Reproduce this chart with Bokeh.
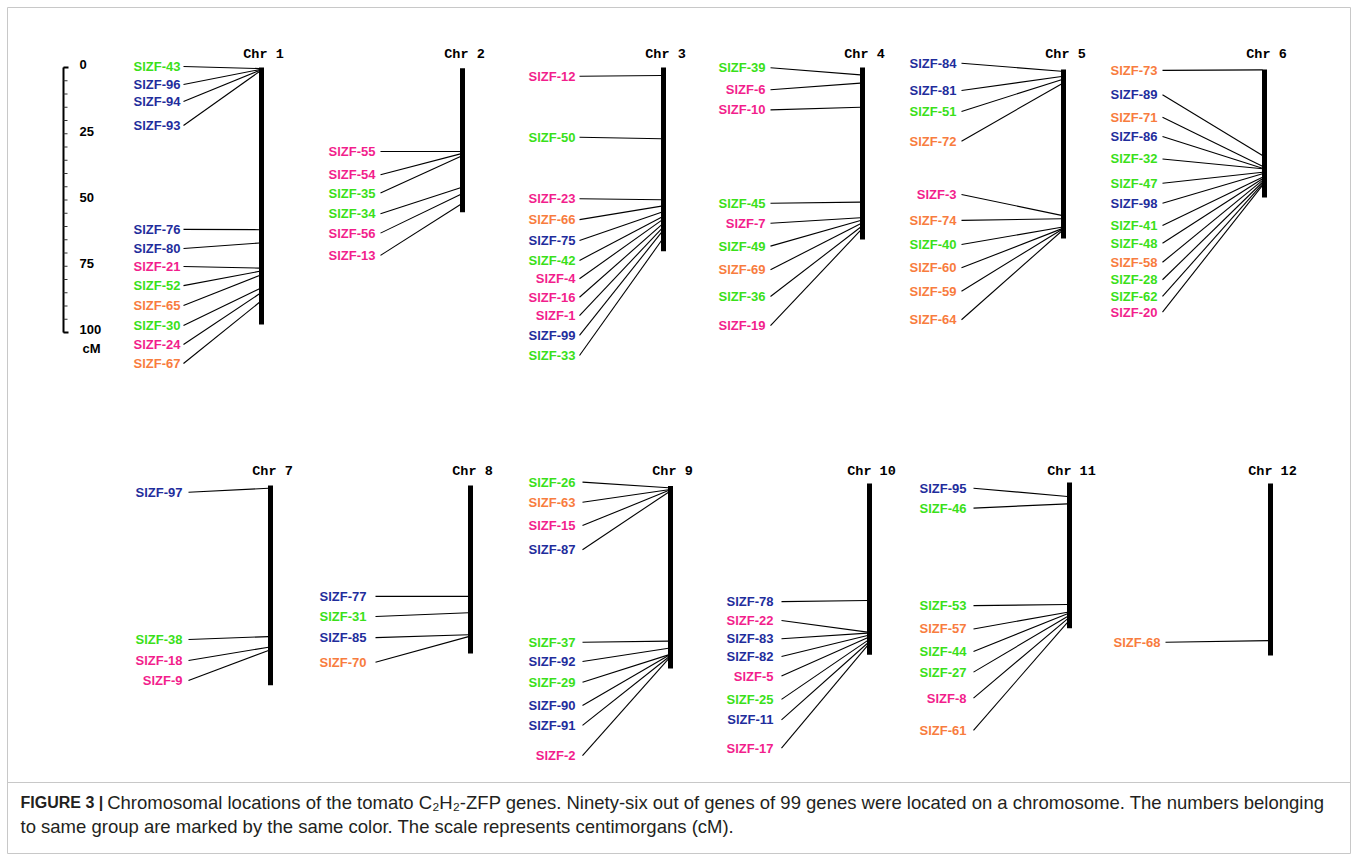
from bokeh.plotting import figure
from bokeh.models import ColumnDataSource, Range1d, Label
from bokeh.core.properties import value
from bokeh.embed import file_html
from bokeh.resources import INLINE

# ------------------------------------------------------------------ data
chromosomes = ["Chr 1", "Chr 2", "Chr 3", "Chr 4", "Chr 5", "Chr 6",
               "Chr 7", "Chr 8", "Chr 9", "Chr 10", "Chr 11", "Chr 12"]
chr_top_cM = [0, 0.3, 0, 0, 0.8, 0.8, 0.4, 0.4, 0.6, -0.4, -0.8, -0.4]
chr_end_cM = [97.0, 54.6, 69.3, 64.9, 64.5, 49.1, 75.8, 63.8, 69.4, 64.2, 54.2, 64.5]

chr1_genes = [43, 96, 94, 93, 76, 80, 21, 52, 65, 30, 24, 67]
chr1_groups = ["G", "B", "B", "B", "B", "B", "P", "G", "O", "G", "P", "O"]
chr1_cM = [0.4, 0.8, 1.1, 1.5, 61.2, 66.2, 75.7, 76.9, 78.5, 83.5, 85.4, 88.6]
chr1_label_cM = [-0.4, 6.4, 12.8, 21.9, 61.1, 68.3, 75.1, 82.3, 89.8, 97.4, 104.5, 111.7]

chr2_genes = [55, 54, 35, 34, 56, 13]
chr2_groups = ["P", "P", "G", "G", "P", "P"]
chr2_cM = [31.7, 32.6, 33.6, 45.4, 47.9, 51.7]
chr2_label_cM = [31.7, 40.5, 47.4, 55.2, 62.5, 70.9]

chr3_genes = [12, 50, 23, 66, 75, 42, 4, 16, 1, 99, 33]
chr3_groups = ["P", "G", "P", "O", "B", "G", "P", "P", "P", "B", "G"]
chr3_cM = [3.0, 26.9, 49.9, 52.3, 54.6, 56.5, 57.7, 59.4, 60.9, 62.2, 65.3]
chr3_label_cM = [3.3, 26.3, 49.5, 57.4, 65.3, 72.8, 79.7, 86.7, 93.6, 101.1, 108.7]

chr4_genes = [39, 6, 10, 45, 7, 49, 69, 36, 19]
chr4_groups = ["G", "P", "P", "G", "P", "G", "O", "G", "P"]
chr4_cM = [2.8, 5.9, 15.0, 50.8, 56.7, 57.7, 59.0, 60.3, 61.5]
chr4_label_cM = [0.1, 8.4, 16.0, 51.2, 58.8, 67.4, 76.3, 86.4, 97.4]

chr5_genes = [84, 81, 51, 72, 3, 74, 40, 60, 59, 64]
chr5_groups = ["B", "B", "G", "O", "P", "O", "G", "O", "O", "O"]
chr5_cM = [1.4, 3.4, 4.6, 6.2, 55.8, 57.1, 60.3, 60.9, 61.2, 61.8]
chr5_label_cM = [-1.6, 8.7, 16.6, 27.8, 47.9, 57.7, 66.8, 75.6, 84.4, 95.2]

chr6_genes = [73, 89, 71, 86, 32, 47, 98, 41, 48, 58, 28, 62, 20]
chr6_groups = ["O", "B", "O", "B", "G", "G", "B", "G", "G", "O", "G", "G", "P"]
chr6_cM = [0.9, 33.2, 37.3, 38.0, 38.2, 39.5, 40.1, 41.4, 42.0, 42.6, 43.3, 43.9, 44.5]
chr6_label_cM = [1.1, 10.3, 18.8, 26.0, 34.5, 43.7, 51.2, 59.6, 66.3, 73.5, 80.1, 86.4, 92.3]

chr7_genes = [97, 38, 18, 9]
chr7_groups = ["B", "G", "P", "P"]
chr7_cM = [1.4, 57.4, 61.4, 62.6]
chr7_label_cM = [2.9, 58.5, 66.4, 74.0]

chr8_genes = [77, 31, 85, 70]
chr8_groups = ["B", "G", "B", "O"]
chr8_cM = [42.2, 48.4, 56.7, 57.4]
chr8_label_cM = [42.2, 49.8, 57.8, 67.1]

chr9_genes = [26, 63, 15, 87, 37, 92, 29, 90, 91, 2]
chr9_groups = ["G", "O", "P", "B", "G", "B", "G", "B", "B", "P"]
chr9_cM = [1.2, 2.0, 2.3, 2.9, 59.1, 61.8, 64.3, 64.5, 65.2, 65.8]
chr9_label_cM = [-0.9, 6.7, 15.5, 24.6, 59.5, 66.8, 74.6, 83.4, 90.9, 102.3]

chr10_genes = [78, 22, 83, 82, 5, 25, 11, 17]
chr10_groups = ["B", "P", "B", "B", "P", "G", "B", "P"]
chr10_cM = [43.8, 55.7, 56.1, 57.0, 57.8, 58.9, 59.9, 60.8]
chr10_label_cM = [44.2, 51.3, 58.2, 64.9, 72.3, 81.1, 88.8, 99.5]

chr11_genes = [95, 46, 53, 57, 44, 27, 8, 61]
chr11_groups = ["B", "G", "G", "O", "G", "G", "P", "O"]
chr11_cM = [4.5, 7.3, 45.3, 48.2, 48.8, 49.8, 50.7, 52.0]
chr11_label_cM = [1.4, 8.9, 45.7, 54.5, 63.0, 70.8, 80.6, 92.8]

chr12_genes = [68]
chr12_groups = ["O"]
chr12_cM = [58.9]
chr12_label_cM = [59.5]

scale_major_cM = [0, 25, 50, 75, 100]
scale_major_labels = ["0", "25", "50", "75", "100"]
scale_minor_step = 5

caption_bold = "FIGURE 3 |"
caption_line1 = ("Chromosomal locations of the tomato C\u2082H\u2082-ZFP genes. Ninety-six out of "
                 "genes of 99 genes were located on a chromosome. The numbers belonging")
caption_line2 = "to same group are marked by the same color. The scale represents centimorgans (cM)."

# ------------------------------------------------------------------ layout / style
W, H = 1357, 860
PX_PER_CM = 2.65
ROW_TOP_PX = [67, 484]
chr_row = [0, 0, 0, 0, 0, 0, 1, 1, 1, 1, 1, 1]
chr_x = [261, 462, 663, 862, 1063, 1264, 270, 470, 670, 869, 1069, 1270]
line_start_x = [183, 380, 579, 770, 961, 1162, 188, 375, 582, 781, 973, 1165]
label_right_x = [180, 375, 575, 765, 956, 1157, 182, 366, 575, 773, 966, 1160]
group_colors = {"G": "#3ae01a", "B": "#1f2d9c", "P": "#f21e8c", "O": "#f87c3e"}

row_offset = [(t - ROW_TOP_PX[0]) / PX_PER_CM for t in ROW_TOP_PX]


def ypx(px):
    """screen pixel row -> data units (used for frame decorations only)"""
    return (px - ROW_TOP_PX[0]) / PX_PER_CM


chr_data = [
    (chr1_genes, chr1_groups, chr1_cM, chr1_label_cM),
    (chr2_genes, chr2_groups, chr2_cM, chr2_label_cM),
    (chr3_genes, chr3_groups, chr3_cM, chr3_label_cM),
    (chr4_genes, chr4_groups, chr4_cM, chr4_label_cM),
    (chr5_genes, chr5_groups, chr5_cM, chr5_label_cM),
    (chr6_genes, chr6_groups, chr6_cM, chr6_label_cM),
    (chr7_genes, chr7_groups, chr7_cM, chr7_label_cM),
    (chr8_genes, chr8_groups, chr8_cM, chr8_label_cM),
    (chr9_genes, chr9_groups, chr9_cM, chr9_label_cM),
    (chr10_genes, chr10_groups, chr10_cM, chr10_label_cM),
    (chr11_genes, chr11_groups, chr11_cM, chr11_label_cM),
    (chr12_genes, chr12_groups, chr12_cM, chr12_label_cM),
]

p = figure(width=W, height=H, x_range=Range1d(0, W), y_range=Range1d(ypx(H), ypx(0)),
           output_backend="svg", toolbar_location=None, x_axis_type=None, y_axis_type=None,
           min_border=0, min_border_left=0, min_border_right=0, min_border_top=0,
           min_border_bottom=0)
p.grid.visible = False
p.outline_line_color = None
p.background_fill_color = "white"
p.border_fill_color = "white"

# frame around figure and caption separator
p.segment(x0=[7, 7, 1350, 7, 7], y0=[ypx(7), ypx(7), ypx(7), ypx(853), ypx(782)],
          x1=[1350, 7, 1350, 1350, 1350], y1=[ypx(7), ypx(853), ypx(853), ypx(853), ypx(782)],
          line_color="#c8c8c8", line_width=1)

# chromosome bars
bar_src = ColumnDataSource(dict(
    x=chr_x,
    y0=[row_offset[r] + t for r, t in zip(chr_row, chr_top_cM)],
    y1=[row_offset[r] + e for r, e in zip(chr_row, chr_end_cM)],
))
p.segment(x0="x", y0="y0", x1="x", y1="y1", source=bar_src, line_color="black",
          line_width=5, line_cap="butt")

# titles
title_src = ColumnDataSource(dict(
    x=[x + 2 for x in chr_x],
    y=[row_offset[r] - 4.9 for r in chr_row],
    text=chromosomes,
))
p.text(x="x", y="y", text="text", source=title_src, text_font=value("Liberation Mono"),
       text_font_style="bold", text_font_size="13.5px", text_align="center",
       text_baseline="middle", text_color="black")

# genes
lx0, ly0, lx1, ly1 = [], [], [], []
tx, ty, tt, tc = [], [], [], []
for c, (genes, groups, pos, lab) in enumerate(chr_data):
    off = row_offset[chr_row[c]]
    for g, grp, cm, lcm in zip(genes, groups, pos, lab):
        lx0.append(line_start_x[c])
        ly0.append(off + lcm)
        lx1.append(chr_x[c] - 2)
        ly1.append(off + cm)
        tx.append(label_right_x[c])
        ty.append(off + lcm)
        tt.append("SlZF-%d" % g)
        tc.append(group_colors[grp])

p.segment(x0=lx0, y0=ly0, x1=lx1, y1=ly1, line_color="black", line_width=1.1)
gene_src = ColumnDataSource(dict(x=tx, y=ty, text=tt, color=tc))
p.text(x="x", y="y", text="text", source=gene_src, text_color="color",
       text_font=value("Liberation Sans"), text_font_style="bold", text_font_size="13px",
       text_align="right", text_baseline="middle")

# scale bar (cM)
SCALE_X = 63
minor = list(range(scale_major_cM[0], scale_major_cM[-1] + 1, scale_minor_step))
p.segment(x0=[SCALE_X], y0=[scale_major_cM[0]], x1=[SCALE_X], y1=[scale_major_cM[-1]],
          line_color="black", line_width=2)
p.segment(x0=[SCALE_X] * len(minor), y0=minor, x1=[SCALE_X + 4] * len(minor), y1=minor,
          line_color="#333333", line_width=1)
p.segment(x0=[SCALE_X, SCALE_X], y0=[scale_major_cM[0], scale_major_cM[-1]],
          x1=[SCALE_X + 5, SCALE_X + 5], y1=[scale_major_cM[0], scale_major_cM[-1]],
          line_color="black", line_width=2)
p.text(x=[79] * len(scale_major_cM), y=[v - 1.0 for v in scale_major_cM],
       text=scale_major_labels, text_font=value("Liberation Sans"), text_font_style="bold",
       text_font_size="13px", text_align="left", text_baseline="middle", text_color="black")
p.text(x=[82], y=[scale_major_cM[-1] + 6], text=["cM"], text_font=value("Liberation Sans"),
       text_font_style="bold", text_font_size="13px", text_align="left",
       text_baseline="middle", text_color="black")

# caption
CAP_SIZE = 18.5
BOLD_SIZE = 16
p.add_layout(Label(x=20, y=ypx(802), text=caption_bold, text_font="Liberation Sans",
                   text_font_style="bold", text_font_size="%spx" % BOLD_SIZE,
                   text_baseline="middle", text_color="#231f20"))
p.add_layout(Label(x=20 + 5.17 * BOLD_SIZE + 4, y=ypx(802), text=caption_line1,
                   text_font="Liberation Sans", text_font_size="%spx" % CAP_SIZE,
                   text_baseline="middle", text_color="#231f20"))
p.add_layout(Label(x=20, y=ypx(826), text=caption_line2, text_font="Liberation Sans",
                   text_font_size="%spx" % CAP_SIZE, text_baseline="middle",
                   text_color="#231f20"))

open("out.html", "w").write(file_html(p, INLINE))
